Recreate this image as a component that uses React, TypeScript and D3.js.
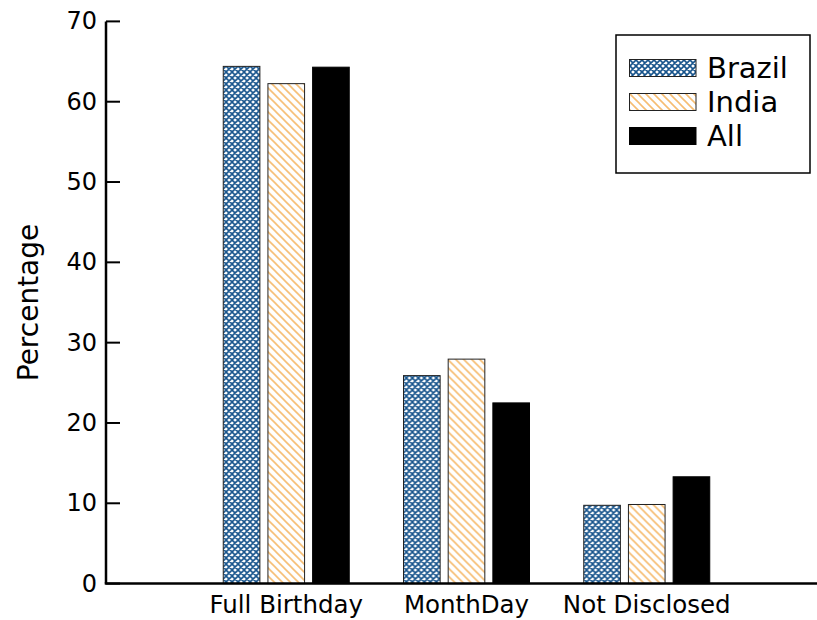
import React from "react";
import * as d3 from "d3";

const categories = ["Full Birthday", "MonthDay", "Not Disclosed"];
const seriesNames = ["Brazil", "India", "All"];
const brazilValues = [64.4, 25.9, 9.75];
const indiaValues = [62.25, 27.95, 9.85];
const allValues = [64.3, 22.5, 13.3];
const yTicks = [0, 10, 20, 30, 40, 50, 60, 70];

const W = 817;
const H = 620;
const FONT = "DejaVu Sans, sans-serif";

const margin = { left: 106, top: 21.4, bottom: 583.6, right: 827 };

const fills: Record<string, string> = {
  Brazil: "url(#hatchCross)",
  India: "url(#hatchDiag)",
  All: "#000",
};

export default function App() {
  const valuesBySeries: Record<string, number[]> = {
    Brazil: brazilValues,
    India: indiaValues,
    All: allValues,
  };

  const x0 = d3
    .scaleBand<string>()
    .domain(categories)
    .range([margin.left, margin.right])
    .paddingInner(0)
    .paddingOuter(0.5);

  const groupWidth = 126;
  const x1 = d3
    .scaleBand<string>()
    .domain(seriesNames)
    .range([x0.bandwidth() / 2 - groupWidth / 2, x0.bandwidth() / 2 + groupWidth / 2])
    .paddingInner(0.18);

  const y = d3.scaleLinear().domain([0, 70]).range([margin.bottom, margin.top]);

  const legendRows = seriesNames.map((s, i) => ({ name: s, cy: 68 + i * 34 }));

  return (
    <svg
      width={W}
      height={H}
      style={{ position: "absolute", left: 0, top: 0, background: "#fff" }}
      fontFamily={FONT}
    >
      <defs>
        <pattern id="hatchCross" patternUnits="userSpaceOnUse" width="6" height="6">
          <rect width="6" height="6" fill="#fff" />
          <path
            d="M0,0 L6,6 M-1,5 L1,7 M5,-1 L7,1 M0,6 L6,0 M-1,1 L1,-1 M5,7 L7,5"
            stroke="#17548c"
            strokeWidth="1.6"
          />
        </pattern>
        <pattern id="hatchDiag" patternUnits="userSpaceOnUse" width="8" height="8">
          <rect width="8" height="8" fill="#fff" />
          <path d="M0,0 L8,8 M-2,6 L2,10 M6,-2 L10,2" stroke="#f6bd72" strokeWidth="1.6" />
        </pattern>
      </defs>

      {/* bars */}
      {categories.map((c, ci) => (
        <g key={c} transform={`translate(${x0(c)},0)`}>
          {seriesNames.map((s) => {
            const v = valuesBySeries[s][ci];
            return (
              <rect
                key={s}
                x={x1(s)}
                y={y(v)}
                width={x1.bandwidth()}
                height={y(0) - y(v)}
                fill={fills[s]}
                stroke={s === "All" ? "#000" : "#222"}
                strokeWidth={1}
              />
            );
          })}
        </g>
      ))}

      {/* y axis spine and inward ticks */}
      <line x1={margin.left} x2={margin.left} y1={margin.top} y2={margin.bottom} stroke="#000" strokeWidth={2.5} />
      {yTicks.map((t) => (
        <g key={t}>
          <line x1={margin.left} x2={margin.left + 14} y1={y(t)} y2={y(t)} stroke="#000" strokeWidth={2} />
          <text x={97} y={y(t)} textAnchor="end" dominantBaseline="central" fontSize={24} fill="#000">
            {t}
          </text>
        </g>
      ))}

      {/* x axis spine */}
      <line x1={margin.left - 1.25} x2={margin.right} y1={margin.bottom} y2={margin.bottom} stroke="#000" strokeWidth={2.5} />
      {categories.map((c) => (
        <text
          key={c}
          x={(x0(c) ?? 0) + x0.bandwidth() / 2}
          y={613}
          textAnchor="middle"
          fontSize={24.5}
          fill="#000"
        >
          {c}
        </text>
      ))}

      {/* y axis title */}
      <text
        transform={`translate(38,${(margin.top + margin.bottom) / 2}) rotate(-90)`}
        textAnchor="middle"
        fontSize={28}
        fill="#000"
      >
        Percentage
      </text>

      {/* legend */}
      <rect x={616} y={35} width={194} height={138} fill="#fff" stroke="#000" strokeWidth={1.5} />
      {legendRows.map((r) => (
        <g key={r.name}>
          <rect
            x={629.5}
            y={r.cy - 8.5}
            width={66.5}
            height={17}
            fill={fills[r.name]}
            stroke={r.name === "All" ? "#000" : "#222"}
            strokeWidth={1}
          />
          <text x={707} y={r.cy} dominantBaseline="central" fontSize={29} fill="#000">
            {r.name}
          </text>
        </g>
      ))}
    </svg>
  );
}
